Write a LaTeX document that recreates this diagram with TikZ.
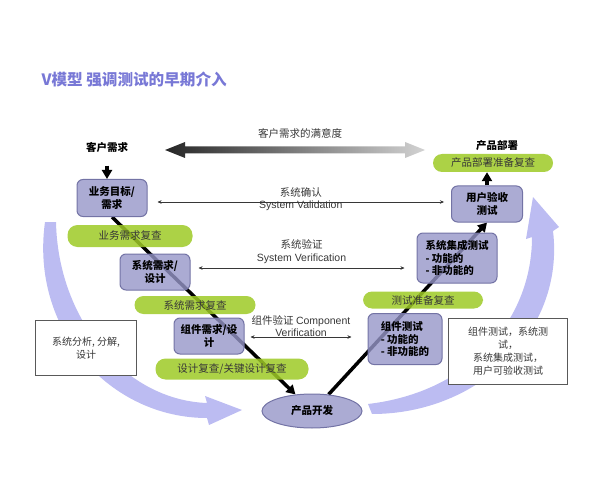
\documentclass[tikz,border=0pt]{standalone}
\usepackage{fontspec}
\setmainfont{Noto Sans CJK SC}
\newfontfamily\latinfont{Liberation Sans}
\usetikzlibrary{calc}
\usetikzlibrary{arrows.meta}
\usetikzlibrary{shapes.geometric}
\usetikzlibrary{backgrounds}

\definecolor{boxfill}{RGB}{150,150,200}
\definecolor{boxline}{RGB}{115,115,165}
\definecolor{pillgreen}{RGB}{158,202,38}
\definecolor{arcfill}{RGB}{188,188,242}
\definecolor{titleblue}{RGB}{120,120,214}
\definecolor{labelgray}{RGB}{55,55,55}

\tikzset{
  phase/.style={draw=boxline, line width=1pt, fill=boxfill, fill opacity=0.8, text opacity=1,
    rounded corners=6pt, font=\bfseries\fontsize{10.5}{12.5}\selectfont, align=center, inner sep=1pt},
  review/.style={fill=pillgreen, fill opacity=0.85, text opacity=1, rounded corners=9pt,
    font=\fontsize{10.5}{12}\selectfont, text=labelgray, inner sep=0pt},
  note/.style={draw=gray!70!black, fill=white, font=\fontsize{10}{13}\selectfont,
    text=labelgray, align=center, inner sep=0pt},
  vline/.style={line width=3.5pt, -{Triangle[length=9pt,width=10pt]}},
  hconn/.style={line width=0.5pt, draw=labelgray,
    {Stealth[length=4pt,width=3.5pt]}-{Stealth[length=4pt,width=3.5pt]}},
  hlabel/.style={font=\fontsize{10.5}{12.5}\selectfont, text=labelgray, align=center},
  bigarc/.style={fill=arcfill, draw=none}
}

\begin{document}
\begin{tikzpicture}[x=1pt,y=-1pt]
  \useasboundingbox (0,0) rectangle (600,500);
  \node [anchor=west, text=titleblue, font=\bfseries\fontsize{15.6}{18}\selectfont] (title) at (38,80)
    {V模型 强调测试的早期介入};

  % satisfaction arrow
  \node [font=\bfseries\fontsize{10.5}{12}\selectfont] (kh) at (107,147) {客户需求};
  \node [font=\bfseries\fontsize{10.5}{12}\selectfont] (cp) at (497,146) {产品部署};
  \node [hlabel] (sat) at (300,133) {客户需求的满意度};
  \coordinate (satl) at (165,150);
  \coordinate (satr) at (425,150);
  \shade [left color=black!85, right color=gray!35] (satl) -- (185,142) -- (185,146.5) -- (405,146.5)
    -- (405,142) -- (satr) -- (405,158) -- (405,153.5) -- (185,153.5) -- (185,158) -- cycle;

  \node [phase, minimum width=70pt, minimum height=37pt] (yw) at (112,198) {业务目标/\\需求};
  \node [phase, minimum width=70pt, minimum height=36pt] (xd) at (155,272) {系统需求/\\设计};
  \node [phase, minimum width=70pt, minimum height=36pt] (zj) at (209,336) {组件需求/设\\计};
  \node [phase, ellipse, rounded corners=0pt, minimum width=100pt, minimum height=34pt, inner sep=0pt]
    (kf) at (312,411) {产品开发};
  \node [phase, minimum width=74pt, minimum height=51pt, align=left] (zc) at (405,339)
    {组件测试\\- 功能的\\- 非功能的};
  \node [phase, minimum width=80pt, minimum height=50pt, align=left] (jc) at (457,258)
    {系统集成测试\\- 功能的\\- 非功能的};
  \node [phase, minimum width=71pt, minimum height=36pt] (yh) at (487,204) {用户验收\\测试};

  \node [review, minimum width=125pt, minimum height=22pt, rounded corners=10pt] (ywp) at (130,236) {业务需求复查};
  \node [review, minimum width=121pt, minimum height=18pt] (xdp) at (195,305) {系统需求复查};
  \node [review, minimum width=153pt, minimum height=21pt, rounded corners=10pt] (sjp) at (232,369) {设计复查/关键设计复查};
  \node [review, minimum width=120pt, minimum height=17pt] (csp) at (423,300) {测试准备复查};
  \node [review, minimum width=120pt, minimum height=18pt] (bsr) at (493,163) {产品部署准备复查};

  % big curved arrows and V lines, behind the boxes
  \begin{scope}[on background layer]
    \fill [bigarc] (45,222) .. controls (30,330) and (110,418) .. (207,418) -- (209,425) -- (242,410)
      -- (205,396) -- (207,403) .. controls (125,400) and (58,320) .. (56,222) -- cycle;
    \fill [bigarc] (372,414) .. controls (480,414) and (565,330) .. (553,231) -- (559,227) -- (533,197)
      -- (526,239) -- (532,237) .. controls (532,320) and (470,392) .. (368,404) -- cycle;
    \draw [vline] (yw.south) -- (kf.135);
    \draw [vline] (kf.45) -- (yh.south);
  \end{scope}
  \draw [vline, shorten <=10pt] (kh.south) -- (kh.south |- yw.north);
  \draw [vline] (yh.north) -- (yh.north |- bsr.south);

  % verification arrows
  \draw [hconn] ($(yw.east)+(10,4)$) -- ($(yw.east -| yh.west)+(-7,4)$)
    node [hlabel, midway, yshift=3pt] (val) {系统确认\\{\latinfont System Validation}};
  \draw [hconn] ($(xd.east)+(8,-4)$) -- ($(xd.east -| jc.west)+(-12,-4)$)
    node [hlabel, midway, yshift=16.5pt] (ver) {系统验证\\{\latinfont System Verification}};
  \draw [hconn] ($(zj.east)+(6,1)$) -- ($(zj.east -| zc.west)+(-16,1)$)
    node [hlabel, midway, yshift=11pt] (cv) {组件验证 {\latinfont Component}\\{\latinfont Verification}};

  \node [note, minimum width=101pt, minimum height=55pt] (lbox) at (86,348) {系统分析, 分解,\\设计};
  \node [note, minimum width=119pt, minimum height=66pt] (rbox) at (508,351)
    {组件测试，系统测\\试，\\系统集成测试，\\用户可验收测试};
\end{tikzpicture}
\end{document}
